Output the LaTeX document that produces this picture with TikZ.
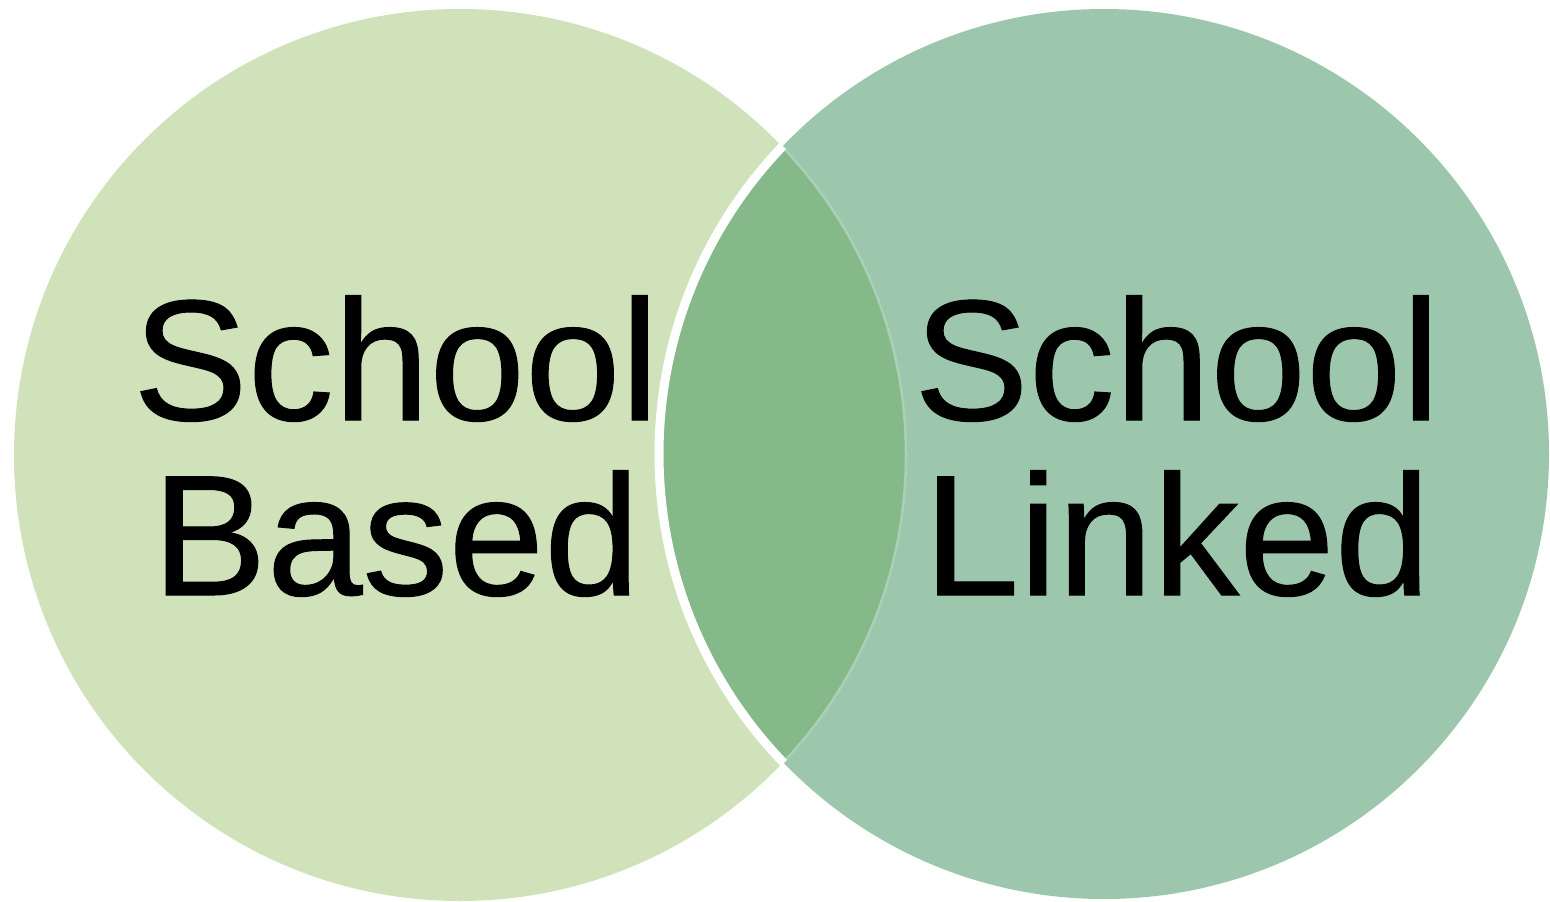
\documentclass[tikz,border=0pt]{standalone}
\usepackage{fontspec}
\setmainfont{Liberation Sans}
\newfontfamily\labelfont{Liberation Sans}[FakeBold=0.6]
\definecolor{leftfill}{HTML}{D0E2BA}
\definecolor{rightfill}{HTML}{9DC7AD}
\definecolor{overlapfill}{HTML}{86B98A}
\definecolor{faintline}{HTML}{AAD0B6}
\begin{document}
\begin{tikzpicture}[x=1pt,y=-1pt,
  label/.style={anchor=base,inner sep=0pt,font=\labelfont\fontsize{172}{178}\selectfont,text=black}]
\useasboundingbox (0,0) rectangle (1550,902);
\coordinate (lc) at (460,455);
\coordinate (rc) at (1104,454);
\fill[leftfill] (lc) circle[radius=446pt];
\fill[rightfill] (rc) circle[radius=445pt];
\begin{scope}
  \clip (lc) circle[radius=446pt];
  \fill[overlapfill] (rc) circle[radius=445pt];
\end{scope}
\begin{scope}
  \clip (rc) circle[radius=445pt];
  \draw[faintline,line width=2.5pt] (lc) circle[radius=446pt];
\end{scope}
\begin{scope}
  \clip (lc) circle[radius=447pt];
  \draw[white,line width=9pt] (rc) circle[radius=445pt];
\end{scope}
\node[label] (l1) at (396,420) {School};
\node[label] (l2) at (396,595) {Based};
\node[label] (r1) at (1177,420) {School};
\node[label] (r2) at (1177,595) {Linked};
\end{tikzpicture}
\end{document}
